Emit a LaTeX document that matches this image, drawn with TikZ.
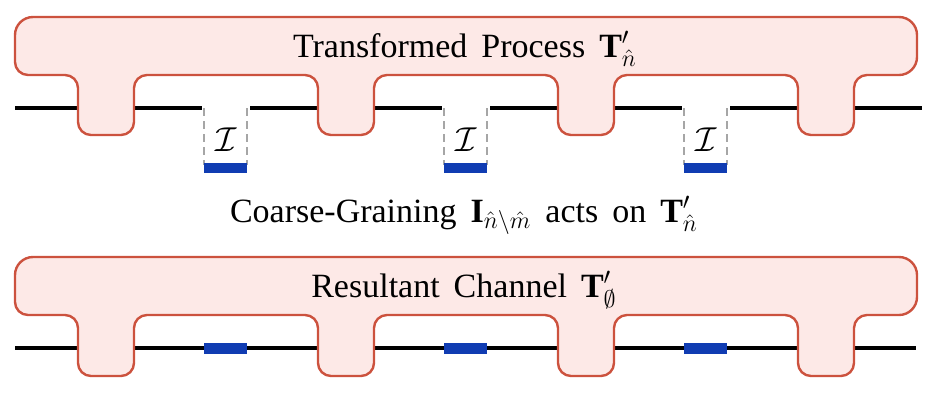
\documentclass[tikz,border=0pt]{standalone}
\usepackage{fontspec}
\setmainfont{Liberation Serif}
\usepackage{amsmath,amssymb}
\definecolor{combline}{RGB}{204,82,62}
\definecolor{combfill}{RGB}{253,233,231}
\definecolor{barblue}{RGB}{16,60,178}
\newcommand{\labelfont}{\fontsize{17}{20}\selectfont\spaceskip=7pt plus 1pt\relax}
\begin{document}
\begin{tikzpicture}[%
    x=0.5pt,
    y=-0.5pt,
    comb/.style={
      draw=combline,
      line width=1.2pt,
      fill=combfill,
      rounded corners=6.5pt
    },
    wire/.style={
      line width=1.7pt,
      black
    },
    idline/.style={
      dashed,
      dash pattern=on 4pt off 2.5pt,
      line width=1pt,
      black!35
    },
    bar/.style={
      fill=barblue
    },
    label/.style={
      font=\labelfont,
      anchor=base
    }
  ]
    \useasboundingbox (0,0) rectangle (929,403);
    % top: transformed process
    \draw[wire] (15,108) -- (202,108);
    \foreach \g in {202,442,682} {
      \draw[wire] (\g+48,108) -- (\g+240,108);
      \draw[idline] (\g+2,108) -- (\g+2,165);
      \draw[idline] (\g+45,108) -- (\g+45,165);
      \fill[bar] (\g+2,163) rectangle (\g+45,173);
      \node[font=\labelfont] at (\g+24,140) {$\mathcal{I}$};
    }
    \draw[comb] (465,17) [rounded corners=9pt] -- (917,17) -- (917,75) [rounded corners=6.5pt]
      \foreach \t in {798,558,318,78} { -- (\t+56,75) -- (\t+56,135) -- (\t,135) -- (\t,75) }
      -- (15,75) [rounded corners=9pt] -- (15,17) -- cycle;
    \node[label] (proc) at (465,57) {Transformed Process $\mathbf{T}'_{\hat{n}}$};
    % middle caption
    \node[label] (cg) at (464,222) {Coarse-Graining $\mathbf{I}_{\hat{n}\setminus\hat{m}}$ acts on $\mathbf{T}'_{\hat{n}}$};
    % bottom: resultant channel
    \draw[wire] (15,348) -- (916,348);
    \foreach \g in {202,442,682} {
      \fill[bar] (\g+2,343) rectangle (\g+45,354);
    }
    \draw[comb] (465,257) [rounded corners=9pt] -- (917,257) -- (917,315) [rounded corners=6.5pt]
      \foreach \t in {798,558,318,78} { -- (\t+56,315) -- (\t+56,376) -- (\t,376) -- (\t,315) }
      -- (15,315) [rounded corners=9pt] -- (15,257) -- cycle;
    \node[label] (chan) at (464,297) {Resultant Channel $\mathbf{T}'_{\emptyset}$};
  \end{tikzpicture}
\end{document}
